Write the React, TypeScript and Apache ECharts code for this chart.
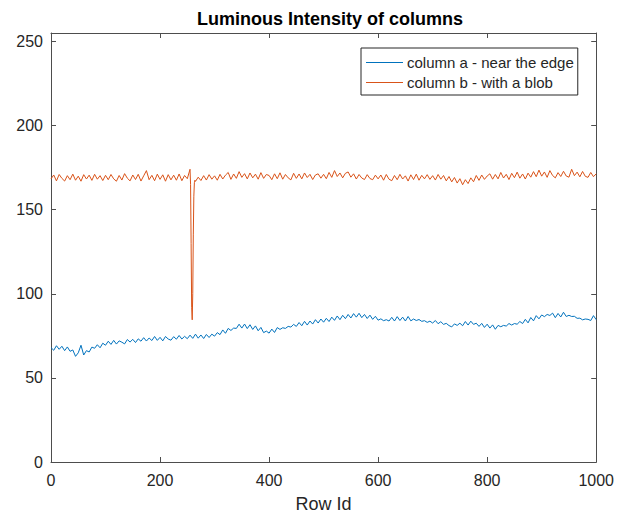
import React, { useEffect, useRef } from 'react';
import * as echarts from 'echarts';

const TITLE = 'Luminous Intensity of columns';
const X_NAME = 'Row Id';
const SERIES_A_NAME = 'column a - near the edge';
const SERIES_B_NAME = 'column b - with a blob';
const ROW_STEP = 5;
const X_TICKS = [0, 200, 400, 600, 800, 1000];
const Y_TICKS = [0, 50, 100, 150, 200, 250];

// column a, rows 0..1000 every 5 rows
const A_VALUES = [
  68, 66.4, 69.1, 67, 68.8, 66.2, 68.4, 65.8, 66.6, 62.8, 64.9, 69.4, 63.6, 66.2, 65.4, 68.3, 67.6, 69.7, 67.9, 70.6,
  69.4, 71.8, 69.9, 72.3, 70.1, 72, 71.2, 70.2, 72.8, 71.3, 72.9, 71, 73.2, 71.8, 73.9, 71.9, 73.7, 72.2, 74.6, 72.3,
  74.1, 72, 74.6, 73.1, 72.4, 74.5, 73, 75.2, 73.1, 74.7, 73.3, 75.4, 73.5, 76, 73.6, 75.5, 73.4, 75.8, 74, 76,
  74.8, 76.9, 75.7, 78.5, 76.5, 79.4, 78.2, 79.6, 79.4, 81.9, 79.6, 82, 79.3, 81.6, 78.8, 80.9, 78, 80, 76.9, 77.8,
  76.6, 79, 77, 79.9, 78.8, 79.8, 79.4, 80.6, 80.2, 81.8, 80.6, 82.9, 81, 83.6, 81.4, 83.8, 82, 84.6, 82.6, 85,
  83.1, 85.4, 83.5, 86.1, 84.2, 86.8, 84.6, 87.2, 85.2, 87.7, 85.6, 88.2, 86.1, 88.4, 85.8, 87.7, 85.3, 87.3, 84.8, 86.6,
  84.3, 85.1, 84, 84.6, 83.8, 86, 83.8, 86.4, 84.1, 86.1, 83.8, 86.5, 83.9, 85, 84.1, 84.7, 83.6, 84, 83, 83.7,
  82.6, 84.1, 82.2, 83.4, 81.8, 82.4, 81.1, 80.3, 82.1, 81.2, 82.5, 81, 83.5, 81.4, 83.7, 81.8, 82.5, 80.6, 82.4, 80,
  81.9, 79.6, 81.5, 78.9, 81.2, 80.4, 81.2, 80.8, 82.3, 81.4, 82.3, 81.9, 83.5, 82.3, 84.8, 82.7, 85.9, 83.9, 87, 85.1,
  87.4, 86.4, 87.7, 87.1, 88.5, 85.8, 88.3, 86.2, 89, 86.5, 87.2, 86.5, 86.6, 85.4, 85.5, 84.5, 85, 84.8, 84.1, 87, 84.6,
];

// column b, rows 0..1000 every 5 rows
const B_VALUES = [
  168.3, 170.6, 167.1, 170.9, 168.6, 167, 170.2, 167.8, 171.1, 167.5, 169.9, 166.9, 170.8, 168.2, 170.5, 167.4, 171, 168.1, 170.2, 167.3,
  170.4, 167.8, 170.9, 168.3, 166.9, 170.3, 167.6, 171.4, 168.7, 167.1, 170.6, 167.9, 171, 167, 170.1, 173.2, 167.8, 170.4, 167.2, 171.1,
  168, 170.7, 166.9, 170.8, 167.7, 170.5, 167.5, 171.2, 167.2, 170.3, 168.4, 174, 100, 166.8, 169.3, 167.3, 170.2, 167.6, 170.8, 168.1,
  170.1, 167.5, 171, 168.2, 170.5, 172.1, 168, 171.2, 168.6, 172.6, 169.2, 171.4, 168.3, 171.8, 168.9, 171.1, 168.1, 172, 168.6, 170.9,
  170.3, 167.8, 171.3, 168.4, 171.9, 168.1, 170.9, 168.9, 167.7, 171.6, 168.6, 171.2, 168.3, 171.8, 169.1, 171, 167.9, 170.6, 171.3, 168.7,
  171, 168.4, 172.1, 169.2, 173.2, 169.7, 171.8, 168.9, 171.6, 172.4, 169.3, 171.3, 168.2, 170.9, 168.8, 167.9, 170.8, 168.5, 167.8, 170.5,
  168.3, 170.6, 167.5, 170.9, 168.1, 167.2, 170.3, 167.8, 171, 168.2, 170.1, 167, 170.7, 167.9, 171.1, 167.5, 170.4, 168.3, 170.8, 168,
  170.2, 167.6, 170.9, 168.1, 170.3, 167.1, 169.7, 166.5, 169.1, 165.8, 168.4, 164.8, 167.8, 165.5, 168.9, 166.6, 170.3, 167.4, 170.6, 168,
  170, 171.3, 168.1, 170.9, 168.3, 172.1, 168.8, 171, 167.9, 171.6, 169, 172.3, 168.7, 171.2, 168.2, 171.7, 169.3, 172.6, 169.6, 173.5,
  169.9, 172.4, 169.2, 173.2, 170.3, 168.9, 172, 169.7, 172.8, 170, 169.3, 174, 170.2, 172.3, 169.5, 172.7, 169.8, 169.2, 172.1, 169.6, 171.3,
];

// the blob: finer rows around the dip in column b
const B_SPIKE_ROWS = [256, 257, 258, 259, 261, 262, 263, 264];
const B_SPIKE_VALUES = [165, 130, 92, 84.5, 135, 158, 166, 167.5];

const FONT = '"Liberation Sans", Arial, Helvetica, sans-serif';
const AXIS_COLOR = '#4d4d4d';
const TEXT_COLOR = '#262626';

export default function App() {
  const ref = useRef<HTMLDivElement>(null);

  useEffect(() => {
    if (!ref.current) return;
    const chart = echarts.init(ref.current, undefined, { renderer: 'svg' });

    const aData = A_VALUES.map((v, i) => [i * ROW_STEP, v]);
    const bData = B_VALUES.map((v, i) => [i * ROW_STEP, v])
      .concat(B_SPIKE_ROWS.map((r, i) => [r, B_SPIKE_VALUES[i]]))
      .sort((p, q) => p[0] - q[0]);

    const xMin = X_TICKS[0];
    const xMax = X_TICKS[X_TICKS.length - 1];
    const xInt = X_TICKS[1] - X_TICKS[0];
    const yInt = Y_TICKS[1] - Y_TICKS[0];

    const axisCommon = {
      axisLine: { show: true, onZero: false, lineStyle: { color: AXIS_COLOR, width: 1 } },
      axisTick: { show: true, inside: true, length: 5, lineStyle: { color: AXIS_COLOR, width: 1 } },
      splitLine: { show: false },
    };

    chart.setOption({
      animation: false,
      backgroundColor: '#ffffff',
      textStyle: { fontFamily: FONT },
      title: {
        text: TITLE,
        left: 325,
        top: 5,
        textAlign: 'center',
        textStyle: { fontFamily: FONT, fontSize: 18, fontWeight: 'bold', color: '#000000' },
      },
      legend: {
        orient: 'vertical',
        left: 361,
        top: 48,
        padding: [6, 4, 4, 5],
        itemGap: 3,
        itemWidth: 37,
        itemHeight: 1.2,
        icon: 'rect',
        borderColor: '#262626',
        borderWidth: 1,
        backgroundColor: '#ffffff',
        textStyle: { fontFamily: FONT, fontSize: 15, color: TEXT_COLOR, lineHeight: 17, padding: [0, 0, 0, -1] },
        data: [SERIES_A_NAME, SERIES_B_NAME],
      },
      grid: { left: 51, top: 33, width: 548, height: 432, containLabel: false, show: false },
      xAxis: [
        {
          type: 'value',
          position: 'bottom',
          min: xMin,
          max: xMax,
          interval: xInt,
          ...axisCommon,
          axisLabel: {
            show: true,
            margin: 10,
            fontFamily: FONT,
            fontSize: 16,
            color: TEXT_COLOR,
            formatter: (v: number) => String(v),
          },
          name: X_NAME,
          nameLocation: 'middle',
          nameGap: 33,
          nameTextStyle: { fontFamily: FONT, fontSize: 18, color: TEXT_COLOR },
        },
        {
          type: 'value',
          position: 'top',
          min: xMin,
          max: xMax,
          interval: xInt,
          ...axisCommon,
          axisLabel: { show: false },
        },
      ],
      yAxis: [
        {
          type: 'value',
          position: 'left',
          min: 0,
          max: 255,
          interval: yInt,
          ...axisCommon,
          axisLabel: {
            show: true,
            margin: 8,
            fontFamily: FONT,
            fontSize: 16,
            color: TEXT_COLOR,
            formatter: (v: number) => (Y_TICKS.includes(v) ? String(v) : ''),
          },
        },
        {
          type: 'value',
          position: 'right',
          min: 0,
          max: 255,
          interval: yInt,
          ...axisCommon,
          axisLabel: { show: false },
        },
      ],
      series: [
        {
          name: SERIES_A_NAME,
          type: 'line',
          data: aData,
          showSymbol: false,
          symbol: 'none',
          lineStyle: { color: '#0072BD', width: 1 },
          itemStyle: { color: '#0072BD' },
        },
        {
          name: SERIES_B_NAME,
          type: 'line',
          data: bData,
          showSymbol: false,
          symbol: 'none',
          lineStyle: { color: '#D95319', width: 1 },
          itemStyle: { color: '#D95319' },
        },
      ],
    });

    return () => chart.dispose();
  }, []);

  return (
    <div
      ref={ref}
      style={{ position: 'fixed', left: 0, top: 0, width: 617, height: 518, background: '#fff' }}
    />
  );
}
